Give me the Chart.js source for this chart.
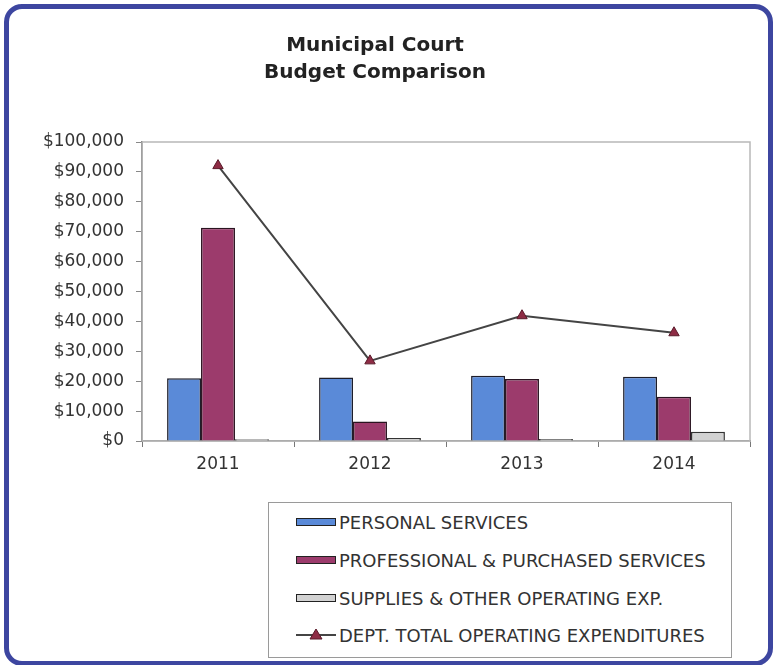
<!DOCTYPE html>
<html>
<head>
<meta charset="utf-8">
<title>Municipal Court Budget Comparison</title>
<script src="https://cdn.jsdelivr.net/npm/chart.js@4"></script>
<style>
    body { margin: 0; background: #ffffff; }
    #wrap { position: relative; width: 773px; height: 665px; overflow: hidden; }
    #frame {
        position: absolute; left: 4px; top: 4px; width: 759px; height: 652px;
        border: 5px solid #3d46a0; border-radius: 18px; box-sizing: content-box;
    }
    #budgetChart { position: absolute; left: 0; top: 0; }
    #legend {
        position: absolute; left: 268px; top: 502px; width: 462px; height: 154px;
        border: 1px solid #9a9a9a; background: #ffffff;
        font-family: "DejaVu Sans", sans-serif; font-size: 18px; color: #333;
    }
    .item { position: absolute; left: 27px; height: 20px; display: flex; align-items: center; white-space: nowrap; }
    .swatch { width: 40px; height: 8px; border: 1px solid #222; margin-right: 3px; box-sizing: border-box; }
</style>
</head>
<body>
<div id="wrap">
    <div id="frame"></div>
    <canvas id="budgetChart" width="773" height="665"></canvas>
    <div id="legend"></div>
</div>
<script>
// Budget figures by fiscal year
const years = ['2011', '2012', '2013', '2014'];
const personalServices = [21000, 21200, 21800, 21500];
const professionalServices = [71300, 6500, 20700, 14800];
const suppliesOperating = [600, 1000, 700, 3100];
const totalOperating = [92100, 26800, 41900, 36200];
const yTicks = [0, 10000, 20000, 30000, 40000, 50000, 60000, 70000, 80000, 90000, 100000];

const tickFont = { family: '"DejaVu Sans", sans-serif', size: 17 };

// Light frame round the plot area, axes are drawn over it
const plotFrame = {
    id: 'plotFrame',
    beforeDatasetsDraw(chart) {
        const a = chart.chartArea;
        const ctx = chart.ctx;
        ctx.save();
        ctx.strokeStyle = '#b8b8b8';
        ctx.lineWidth = 1.5;
        ctx.strokeRect(a.left, a.top, a.right - a.left, a.bottom - a.top);
        ctx.restore();
    }
};

const ctx = document.getElementById('budgetChart').getContext('2d');
const chart = new Chart(ctx, {
    type: 'bar',
    data: {
        labels: years,
        datasets: [
            {
                type: 'line',
                label: 'DEPT. TOTAL OPERATING EXPENDITURES',
                data: totalOperating,
                borderColor: '#444444',
                borderWidth: 2,
                pointStyle: 'triangle',
                pointRadius: 6,
                pointBackgroundColor: '#8e2c45',
                pointBorderColor: '#5a1b2a',
                pointBorderWidth: 1,
                order: 0
            },
            {
                label: 'PERSONAL SERVICES',
                data: personalServices,
                backgroundColor: '#5a8ad8',
                borderColor: '#1e1e2a',
                borderWidth: 1.5,
                order: 1
            },
            {
                label: 'PROFESSIONAL & PURCHASED SERVICES',
                data: professionalServices,
                backgroundColor: '#9c3b6c',
                borderColor: '#2a1420',
                borderWidth: 1.5,
                order: 1
            },
            {
                label: 'SUPPLIES & OTHER OPERATING EXP.',
                data: suppliesOperating,
                backgroundColor: '#d2d2d2',
                borderColor: '#333333',
                borderWidth: 1.5,
                order: 1
            }
        ]
    },
    options: {
        responsive: false,
        animation: false,
        datasets: {
            bar: { barPercentage: 1, categoryPercentage: 0.67 }
        },
        layout: { padding: { left: 0, right: 23, top: 0, bottom: 0 } },
        plugins: {
            legend: { display: false },
            tooltip: { enabled: false },
            title: {
                display: true,
                text: ['Municipal Court', 'Budget Comparison'],
                color: '#222',
                font: { family: '"DejaVu Sans", sans-serif', size: 20, weight: 'bold', lineHeight: 1.35 },
                padding: { top: 32, bottom: 56 }
            }
        },
        scales: {
            x: {
                grid: { offset: true, drawOnChartArea: false, tickLength: 6, tickColor: '#777' },
                border: { color: '#888', width: 1.5 },
                ticks: { color: '#333', font: tickFont, padding: 7 },
                afterFit(scale) { scale.height = 224; }
            },
            y: {
                min: 0,
                max: 100000,
                afterBuildTicks(scale) { scale.ticks = yTicks.map(v => ({ value: v })); },
                grid: { drawOnChartArea: false, tickLength: 6, tickColor: '#888' },
                border: { color: '#555', width: 1.5 },
                ticks: {
                    color: '#333',
                    font: tickFont,
                    padding: 12,
                    callback: v => '$' + Number(v).toLocaleString('en-US')
                },
                afterFit(scale) { scale.width = 142; }
            }
        }
    },
    plugins: [plotFrame]
});

// Legend box below the plot, built from the chart's datasets
const legendEl = document.getElementById('legend');
const legendOrder = [1, 2, 3, 0];
const rowTops = [9, 47, 85, 122];
legendOrder.forEach((idx, i) => {
    const ds = chart.data.datasets[idx];
    const item = document.createElement('div');
    item.className = 'item';
    item.style.top = rowTops[i] + 'px';
    if (ds.type === 'line') {
        item.innerHTML = `<svg width="40" height="14" style="margin-right:3px">
            <line x1="0" y1="7" x2="40" y2="7" stroke="${ds.borderColor}" stroke-width="2"/>
            <polygon points="20,1 26,11 14,11" fill="${ds.pointBackgroundColor}" stroke="${ds.pointBorderColor}"/>
        </svg>`;
    } else {
        const sw = document.createElement('span');
        sw.className = 'swatch';
        sw.style.background = ds.backgroundColor;
        item.appendChild(sw);
    }
    const label = document.createElement('span');
    label.textContent = ds.label;
    item.appendChild(label);
    legendEl.appendChild(item);
});
</script>
</body>
</html>
